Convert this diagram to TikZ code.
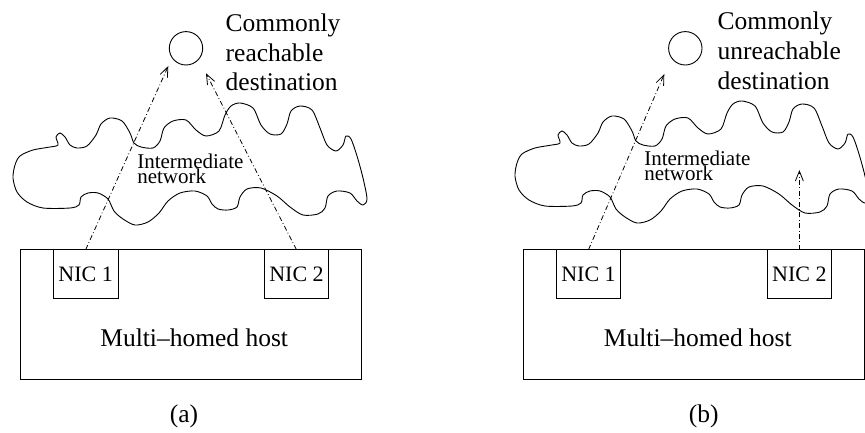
\documentclass[tikz,border=0pt]{standalone}
\usepackage{fontspec}
\setmainfont{Liberation Serif}
\usetikzlibrary{arrows.meta}
\tikzset{
  boxline/.style={draw, line width=0.9pt, inner sep=0pt, outer sep=0pt, rectangle},
  nicbox/.style={boxline, minimum width=64.8pt, minimum height=48.6pt, font=\fontsize{22}{26}\selectfont},
  hostbox/.style={boxline, minimum width=340.6pt, minimum height=129.3pt},
  destnode/.style={draw, circle, line width=0.9pt, minimum size=33.4pt, inner sep=0pt, outer sep=0pt},
  bigtext/.style={inner sep=0pt, outer sep=0pt, align=left, font=\fontsize{25.5}{29.7}\selectfont},
  nettext/.style={inner sep=0pt, outer sep=0pt, align=left, font=\fontsize{21}{15}\selectfont},
  captext/.style={inner sep=0pt, outer sep=0pt, font=\fontsize{25.5}{30}\selectfont},
  cloudline/.style={line width=0.9pt, smooth cycle, tension=0.5},
  path/.style={line width=0.8pt, dash pattern=on 5pt off 2.5pt on 0.8pt off 2.5pt,
    -{Straight Barb[length=10pt,width=8pt,line width=0.8pt]}},
}
\newcommand{\cloudpts}{(58,145) (56,137) (60,133) (65,137) (70,145) (77,148) (87,146) (96,135)
 (101,124) (110,118) (122,121) (130,133) (134,143) (141,147) (153,148) (160,141) (164,128)
 (173,121) (186,120) (196,130) (206,136) (219,131) (225,115) (231,106) (240,103) (253,108)
 (261,125) (270,134) (281,134) (287,124) (291,111) (300,106) (312,110) (320,128) (327,145)
 (336,151) (343,145) (346,136) (351,139) (357,156) (363,178) (367,199) (363,205) (357,201)
 (350,193) (337,191) (328,196) (325,208) (318,214) (303,215) (290,207) (277,196) (261,188)
 (247,189) (240,197) (237,207) (228,210) (218,209) (212,204) (207,196) (195,191) (180,193)
 (168,201) (159,213) (148,222) (135,225) (123,219) (114,211) (108,199) (98,193) (88,193)
 (81,197) (79,205) (70,208) (43,208) (27,202) (17,192) (13,178) (15,165) (20,156) (33,150)
 (50,147)}
\begin{document}
\begin{tikzpicture}[x=1pt,y=-1pt]
\useasboundingbox (0,0) rectangle (865,433);
\clip (0,0) rectangle (865,433);

% ---------- panel (a) ----------
\draw[line width=0.9pt] plot[cloudline] coordinates {\cloudpts};
\node[hostbox] (hostA) at (191,314.35) {};
\node[nicbox] (nicA1) at (85.65,274) {NIC 1};
\node[nicbox] (nicA2) at (296.5,274) {NIC 2};
\node[captext, anchor=base] (hostAtxt) at (194.2,346.7) {Multi–homed host};
\node[destnode] (destA) at (186,48.3) {};
\node[bigtext, anchor=base west] (destAtxt) at (225.7,91) {Commonly\\reachable\\destination};
\node[nettext, anchor=base west] (netA) at (137.3,183.3) {Intermediate\\network};
\coordinate (tipA1) at (168.3,66);
\coordinate (tipA2) at (206,73.3);
\draw[path] (nicA1.north) -- (tipA1);
\draw[path] (nicA2.north) -- (tipA2);
\node[captext, anchor=base] (capA) at (184,422) {(a)};

% ---------- panel (b) ----------
\begin{scope}[shift={(502,-2)}]
\draw[line width=0.9pt] plot[cloudline] coordinates {\cloudpts};
\end{scope}
\node[hostbox] (hostB) at (694,314.35) {};
\node[nicbox] (nicB1) at (588.5,274) {NIC 1};
\node[nicbox] (nicB2) at (799.35,274) {NIC 2};
\node[captext, anchor=base] (hostBtxt) at (697.8,346.7) {Multi–homed host};
\node[destnode] (destB) at (685.3,48.3) {};
\node[bigtext, anchor=base west] (destBtxt) at (717.7,89.3) {Commonly\\unreachable\\destination};
\node[nettext, anchor=base west] (netB) at (644.3,180) {Intermediate\\network};
\coordinate (tipB1) at (664.3,74);
\coordinate (tipB2) at (799.35,170);
\draw[path] (nicB1.north) -- (tipB1);
\draw[path] (nicB2.north) -- (tipB2);
\node[captext, anchor=base] (capB) at (703.7,422) {(b)};
\end{tikzpicture}
\end{document}
